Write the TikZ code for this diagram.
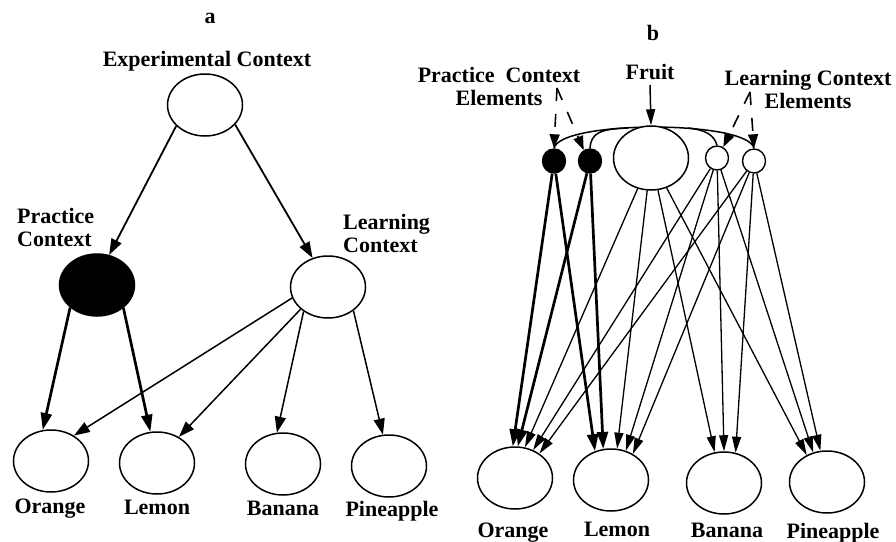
\documentclass[tikz,border=0pt]{standalone}
\usepackage{fontspec}
\setmainfont{Liberation Serif}
\usetikzlibrary{shapes, arrows.meta}

\begin{document}
\begin{tikzpicture}[x=1pt, y=-1pt,
            oval/.style={draw, ellipse, line width=1.5pt, minimum width=75pt, minimum height=62pt, inner sep=0pt},
            elem/.style={draw, ellipse, line width=1.4pt, minimum width=23pt, minimum height=24pt, inner sep=0pt},
            lbl/.style={font=\fontsize{22}{23}\selectfont\bfseries, inner sep=0pt, anchor=base},
            link/.style={-{Triangle[length=16pt, width=11pt]}, line width=1.8pt},
            heavy/.style={-{Triangle[length=17pt, width=11pt]}, line width=2.7pt},
            fine/.style={-{Triangle[length=16pt, width=9pt]}, line width=1.3pt},
            pointer/.style={-{Triangle[length=14pt, width=10pt]}, line width=1.6pt, dash pattern=on 13pt off 13pt}]
            \useasboundingbox (0,0) rectangle (896,541);

            % a: context tree
            \node[lbl] (atitle) at (210,23) {a};
            \node[lbl] (exptxt) at (207,66) {Experimental Context};
            \node[oval] (exp) at (205,105) {};
            \node[oval, fill=black] (prac) at (97,285) {};
            \node[oval] (learn) at (328,287) {};
            \node[lbl, anchor=base west, align=left] (practxt) at (17,246) {Practice\\Context};
            \node[lbl, anchor=base west, align=left] (learntxt) at (343,252) {Learning\\Context};

            % a: fruits
            \node[oval] (aorange) at (51,461) {};
            \node[oval] (alemon) at (157,463) {};
            \node[oval] (abanana) at (283,464) {};
            \node[oval] (apine) at (389,466) {};
            \node[lbl] (aorangetxt) at (50,513) {Orange};
            \node[lbl] (alemontxt) at (157,514) {Lemon};
            \node[lbl] (abananatxt) at (283,515) {Banana};
            \node[lbl] (apinetxt) at (392,516) {Pineapple};

            % a: links
            \draw[link] (exp.216) -- (prac.68);
            \draw[link] (exp.327) -- (learn.118);
            \draw[heavy] (prac.220) -- (aorange.105);
            \draw[heavy] (prac.319) -- (alemon.102);
            \draw[link, line width=1.5pt] (learn.197) -- (aorange.48);
            \draw[link, line width=1.5pt] (learn.219) -- (alemon.50);
            \draw[link, line width=1.5pt] (learn.225) -- (abanana.101);
            \draw[link, line width=1.5pt] (learn.317) -- (apine.101);

            % b: context elements
            \node[lbl] (btitle) at (653,40) {b};
            \node[lbl] (fruittxt) at (650,79) {Fruit};
            \node[lbl, align=center] (pelemtxt) at (499,105) {Practice\ \ Context\\Elements};
            \node[lbl, align=center] (lelemtxt) at (808,108) {Learning Context\\Elements};
            \node[elem, fill=black] (pa) at (554,161) {};
            \node[elem, fill=black] (pb) at (590,161) {};
            \node[elem] (la) at (717,158) {};
            \node[elem] (lb) at (754,161) {};
            \coordinate (pcaret) at (557,88);
            \coordinate (lcaret) at (750,92);
            \coordinate (fruitin) at (650,85);

            % b: grouping arcs
            \draw[line width=1.5pt] (pa.north) .. controls (560,120) and (748,120) .. (lb.north);
            \draw[line width=1.5pt] (pb.north) .. controls (591,133) and (600,129) .. (628,128);
            \draw[line width=1.5pt] (la.north) .. controls (714,135) and (706,130) .. (688,128);
            \node[oval, fill=white, minimum height=64pt] (fruit) at (651,158) {};

            % b: pointers
            \draw[fine, line width=1.5pt] (fruitin) -- (fruit.north);
            \draw[pointer] (pcaret) -- (pa.north);
            \draw[pointer] (pcaret) -- (pb.120);
            \draw[pointer] (lcaret) -- (la.60);
            \draw[pointer] (lcaret) -- (lb.north);

            % b: fruits
            \node[oval] (borange) at (515,478) {};
            \node[oval] (blemon) at (611,480) {};
            \node[oval] (bbanana) at (724,483) {};
            \node[oval] (bpine) at (827,482) {};
            \node[lbl] (borangetxt) at (513,537) {Orange};
            \node[lbl] (blemontxt) at (617,536) {Lemon};
            \node[lbl] (bbananatxt) at (727,537) {Banana};
            \node[lbl] (bpinetxt) at (833,538) {Pineapple};

            % b: links
            \draw[heavy] (pa) -- (borange.94);
            \draw[heavy] (pa) -- (blemon.119);
            \draw[heavy] (pb) -- (borange.85);
            \draw[heavy] (pb) -- (blemon.104);
            \draw[fine] (fruit) -- (borange.72);
            \draw[fine] (fruit) -- (blemon.79);
            \draw[fine] (fruit) -- (bbanana.107);
            \draw[fine] (fruit) -- (bpine.127);
            \draw[fine] (la) -- (borange.57);
            \draw[fine] (la) -- (blemon.63);
            \draw[fine] (la) -- (bbanana.90);
            \draw[fine] (la) -- (bpine.115);
            \draw[fine] (lb) -- (borange.45);
            \draw[fine] (lb) -- (blemon.50);
            \draw[fine] (lb) -- (bbanana.69);
            \draw[fine] (lb) -- (bpine.102);
        \end{tikzpicture}
\end{document}
